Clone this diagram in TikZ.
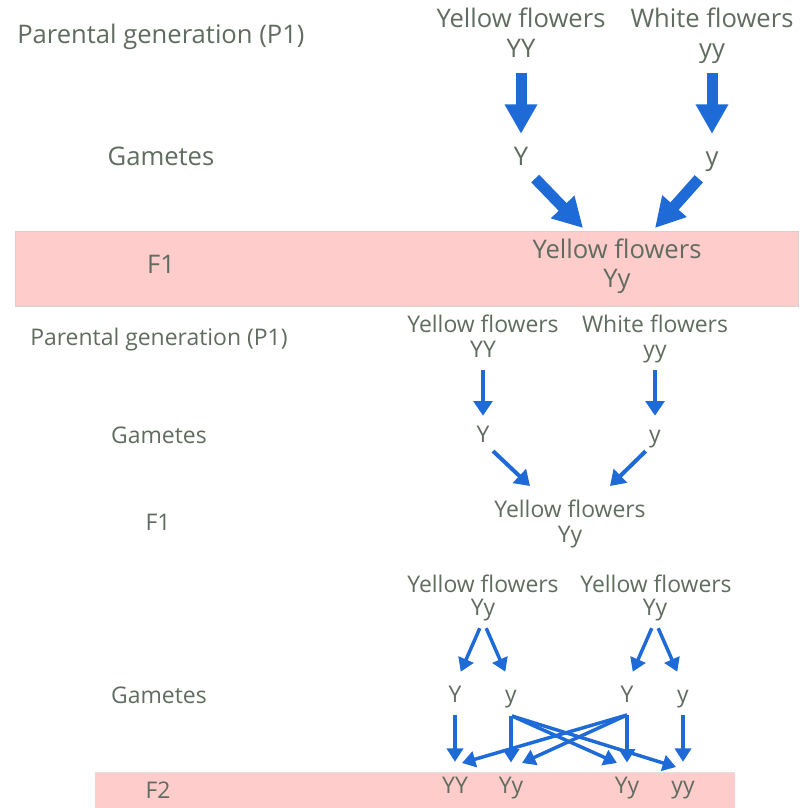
\documentclass[tikz,border=0pt]{standalone}
\usepackage{fontspec}
\setmainfont{Open Sans}
\usetikzlibrary{arrows.meta}
\definecolor{txt}{HTML}{5F6C5F}
\definecolor{arr}{HTML}{1E6AD6}
\definecolor{band}{HTML}{FFCCCC}
\begin{document}
\begin{tikzpicture}[x=0.75pt,y=-0.75pt,
  big/.style={font=\fontsize{19.2pt}{22pt}\selectfont, text=txt, inner sep=0pt, text height=14pt, text depth=4.7pt, anchor=base},
  sml/.style={font=\fontsize{17.2pt}{20pt}\selectfont, text=txt, inner sep=0pt, text height=12.7pt, text depth=4.2pt, anchor=base},
  bigarr/.style={draw=arr, line width=8.25pt, -{Triangle[width=23pt,length=22pt]}},
  midarr/.style={draw=arr, line width=3pt, -{Triangle[width=14pt,length=11pt]}},
  smlarr/.style={draw=arr, line width=2.6pt, -{Triangle[width=12pt,length=10pt]}},
  bandbox/.style={fill=band, draw=black!18, line width=0.6pt}
]
\useasboundingbox (0,0) rectangle (806,808);
% bands
\path[bandbox] (15,231) rectangle (798,306);
\path[fill=band] (95,772) rectangle (735,808);
\draw[black!12, line width=0.6pt] (95,772) -- (735,772);

% ---------- section 1 ----------
\node[big, anchor=base west] (p1a) at (17,43) {Parental generation (P1)};
\node[big] (yf1) at (521,27) {Yellow flowers};
\node[big] (YY1) at (521,57) {YY};
\node[big] (wf1) at (712,27) {White flowers};
\node[big] (yy1) at (712,57) {yy};
\node[big] (gam1) at (161,165) {Gametes};
\node[big] (gY1) at (521,165) {Y};
\node[big] (gy1) at (712,165) {y};
\node[big] (f1a) at (161,273) {F1};
\node[big] (f1yf) at (617,258) {Yellow flowers};
\node[big] (f1Yy) at (617,287) {Yy};
\coordinate (t1) at (583,228);
\coordinate (t2) at (655,228);
\draw[bigarr, shorten <=7.3pt, shorten >=9.2pt] (YY1.south) -- (gY1.north);
\draw[bigarr, shorten <=7.3pt, shorten >=9.2pt] (yy1.south) -- (gy1.north);
\draw[bigarr, shorten <=7.3pt] (gY1.south east) -- (t1);
\draw[bigarr, shorten <=7.3pt] (gy1.south west) -- (t2);

% ---------- section 2 ----------
\node[sml, anchor=base west] (p1b) at (30,345) {Parental generation (P1)};
\node[sml] (yf2) at (483,332) {Yellow flowers};
\node[sml] (YY2) at (483,357) {YY};
\node[sml] (wf2) at (655,332) {White flowers};
\node[sml] (yy2) at (655,357) {yy};
\node[sml] (gam2) at (159,443) {Gametes};
\node[sml] (gY2) at (483,442) {Y};
\node[sml] (gy2) at (655,442) {y};
\node[sml] (f1b) at (158,530) {F1};
\node[sml] (f1yf2) at (570,517) {Yellow flowers};
\node[sml] (f1Yy2) at (570,542) {Yy};
\coordinate (t3) at (530,486);
\coordinate (t4) at (610,486);
\draw[midarr, shorten <=5.5pt, shorten >=6.8pt] (YY2.south) -- (gY2.north);
\draw[midarr, shorten <=5.5pt, shorten >=6.8pt] (yy2.south) -- (gy2.north);
\draw[midarr, shorten <=3.5pt] (gY2.south east) -- (t3);
\draw[midarr, shorten <=3.5pt] (gy2.south west) -- (t4);

% ---------- section 3 ----------
\node[sml] (yf3a) at (483,592) {Yellow flowers};
\node[sml] (Yy3a) at (483,615) {Yy};
\node[sml] (yf3b) at (656,592) {Yellow flowers};
\node[sml] (Yy3b) at (655,615) {Yy};
\node[sml] (gam3) at (159,703) {Gametes};
\node[sml] (gYa) at (455,702) {Y};
\node[sml] (gya) at (511,702) {y};
\node[sml] (gYb) at (627,702) {Y};
\node[sml] (gyb) at (683,702) {y};
\node[sml] (f2) at (158,798) {F2};
\node[sml] (fYY) at (455,793) {YY};
\node[sml] (fYy1) at (511,793) {Yy};
\node[sml] (fYy2) at (627,793) {Yy};
\node[sml] (fyy) at (683,793) {yy};

\draw[smlarr, shorten <=6pt, shorten >=10.7pt] (Yy3a.south) -- (gYa.north);
\draw[smlarr, shorten <=6pt, shorten >=10.7pt] (Yy3a.south) -- (gya.north);
\draw[smlarr, shorten <=6pt, shorten >=10.7pt] (Yy3b.south) -- (gYb.north);
\draw[smlarr, shorten <=6pt, shorten >=10.7pt] (Yy3b.south) -- (gyb.north);

\draw[smlarr, shorten <=5.5pt, shorten >=10.5pt] (gYa.south) -- (fYY.north);
\draw[smlarr, shorten <=6.2pt, shorten >=10pt] (gya.south) -- (fYy1.north);
\draw[smlarr, shorten <=5.5pt, shorten >=10pt] (gYb.south) -- (fYy2.north);
\draw[smlarr, shorten <=5.5pt, shorten >=10.5pt] (gyb.south) -- (fyy.north);

\coordinate (va) at (512,716);
\coordinate (vb) at (627,715);
\coordinate (t5) at (617,763);
\coordinate (t6) at (676,767);
\coordinate (t7) at (462,763);
\coordinate (t8) at (522,763);
\draw[smlarr] (va) -- (t5);
\draw[smlarr] (va) -- (t6);
\draw[smlarr] (vb) -- (t7);
\draw[smlarr] (vb) -- (t8);
\end{tikzpicture}
\end{document}
